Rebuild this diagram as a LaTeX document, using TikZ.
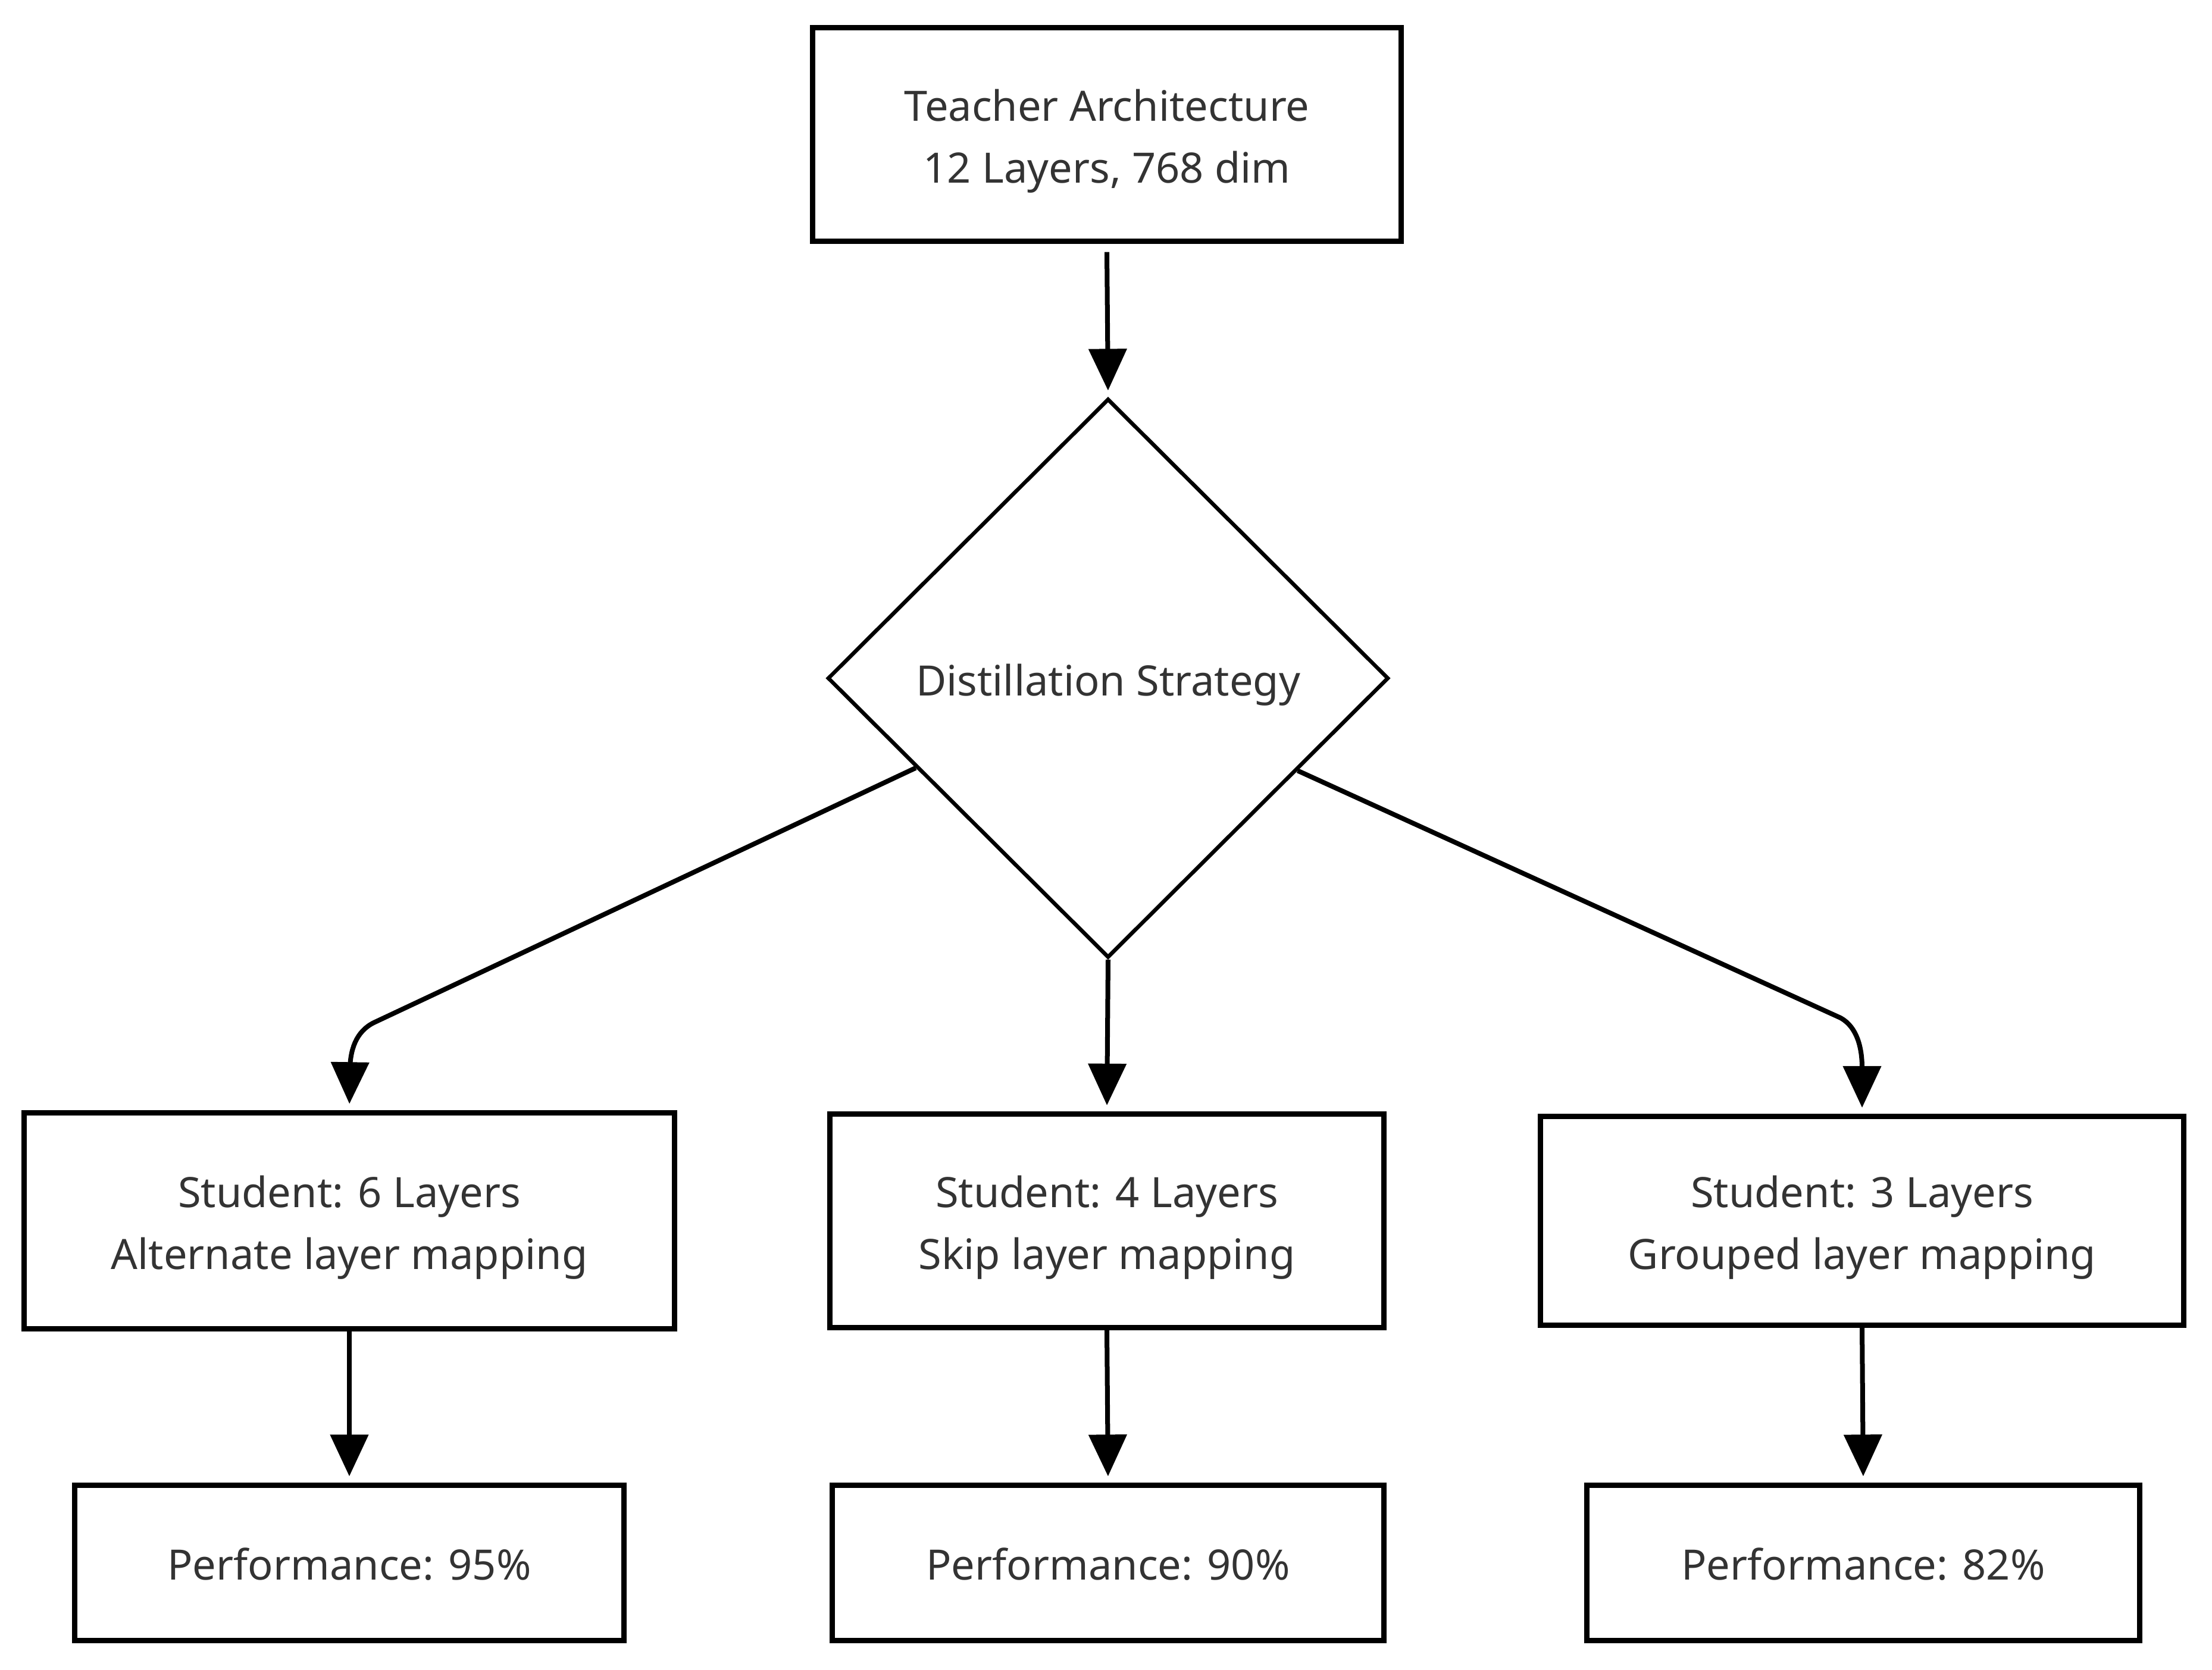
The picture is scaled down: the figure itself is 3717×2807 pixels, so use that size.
\documentclass[tikz,border=0pt]{standalone}
\usepackage{fontspec}
\setmainfont{Noto Sans}
\usetikzlibrary{arrows.meta,shapes.geometric}
\definecolor{txt}{HTML}{333333}
\tikzset{
  box/.style={draw=black, line width=0.09cm, inner sep=0pt},
  dia/.style={draw=black, line width=0.065cm, shape=diamond, inner sep=0pt},
  lbl/.style={text=txt, align=center, inner sep=0pt, font=\fontsize{20}{29.6}\selectfont},
  arr/.style={draw=black, line width=0.08cm, -{Triangle[width=0.63cm,length=0.7cm]}, shorten >=3pt}
}
\begin{document}
\begin{tikzpicture}[x=0.01cm,y=-0.01cm]
\useasboundingbox (0,0) rectangle (3717,2807);
\node[box, minimum width=9.89cm, minimum height=3.58cm] (teach) at (1860,226) {};
\node[lbl] (teachT) at ([yshift=-3.2pt]teach.center) {Teacher Architecture\\12 Layers, 768 dim};
\node[dia, minimum width=9.42cm, minimum height=9.39cm] (strat) at (1862,1140) {};
\node[lbl] (stratT) at ([yshift=-3.2pt]strat.center) {Distillation Strategy};
\node[box, minimum width=10.93cm, minimum height=3.63cm] (s6) at (587,2052) {};
\node[lbl] (s6T) at ([yshift=-3.2pt]s6.center) {Student: 6 Layers\\Alternate layer mapping};
\node[box, minimum width=9.31cm, minimum height=3.58cm] (s4) at (1860,2052) {};
\node[lbl] (s4T) at ([yshift=-3.2pt]s4.center) {Student: 4 Layers\\Skip layer mapping};
\node[box, minimum width=10.81cm, minimum height=3.50cm] (s3) at (3129,2052) {};
\node[lbl] (s3T) at ([yshift=-3.2pt]s3.center) {Student: 3 Layers\\Grouped layer mapping};
\node[box, minimum width=9.22cm, minimum height=2.61cm] (p6) at (587,2627) {};
\node[lbl] (p6T) at ([yshift=-0.6pt]p6.center) {Performance: 95\%};
\node[box, minimum width=9.26cm, minimum height=2.61cm] (p4) at (1862,2627) {};
\node[lbl] (p4T) at ([yshift=-0.6pt]p4.center) {Performance: 90\%};
\node[box, minimum width=9.29cm, minimum height=2.61cm] (p3) at (3131,2627) {};
\node[lbl] (p3T) at ([yshift=-0.6pt]p3.center) {Performance: 82\%};
\coordinate (bendL) at (628,1719);
\coordinate (bendR) at (3093,1711);
\draw[arr] ([yshift=-4pt]teach.south) -- (strat.north);
\draw[arr] (strat.205) -- (bendL) .. controls (598,1734) and (588,1765) .. (588,1800) -- (s6.north);
\draw[arr] (strat.south) -- (s4.north);
\draw[arr] (strat.334) -- (bendR) .. controls (3120,1726) and (3129,1760) .. (3129,1795) -- (s3.north);
\draw[arr] (s6.south) -- (p6.north);
\draw[arr] (s4.south) -- (p4.north);
\draw[arr] (s3.south) -- (p3.north);
\end{tikzpicture}
\end{document}
